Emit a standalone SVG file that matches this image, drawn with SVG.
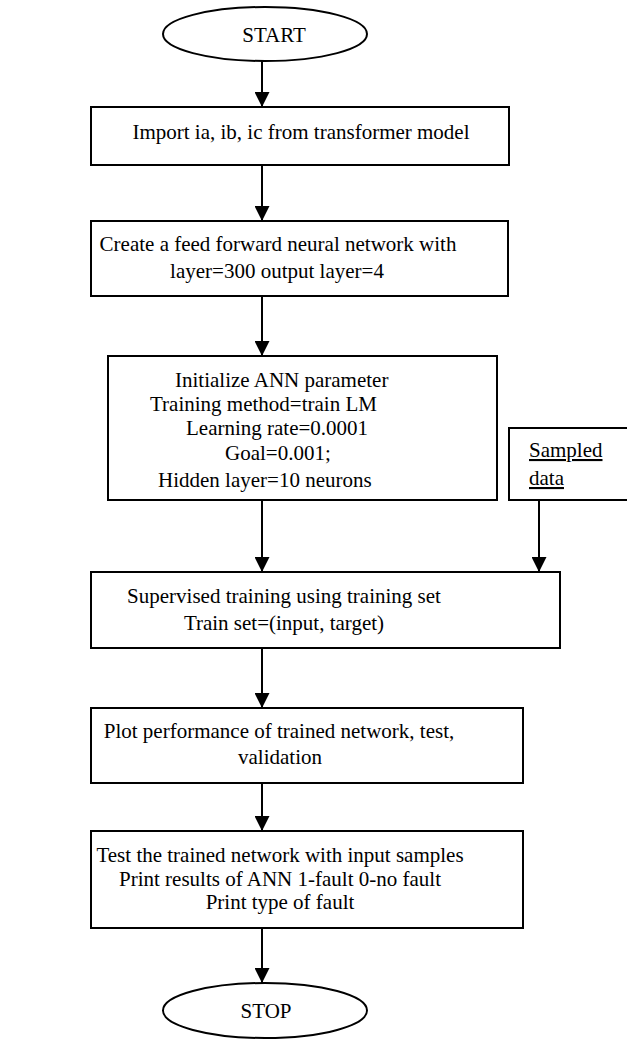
<svg xmlns="http://www.w3.org/2000/svg" width="627" height="1039" viewBox="0 0 627 1039">
<defs>
<style>
.n{fill:#fff;stroke:#000;stroke-width:2}
.t{font-family:"Liberation Serif","Times New Roman",serif;font-size:21px;fill:#000}
.m{text-anchor:middle}
.c{stroke:#000;stroke-width:2;fill:none;marker-end:url(#ah)}
.u{text-decoration:underline}
</style>
<marker id="ah" markerWidth="15" markerHeight="15" refX="15" refY="7.5" orient="auto" markerUnits="userSpaceOnUse">
<path d="M0,0 L15,7.5 L0,15 Z" fill="#000"/>
</marker>
</defs>
<rect width="627" height="1039" fill="#fff"/>
<g id="connectors">
<line class="c" x1="262" y1="61" x2="262" y2="107"/>
<line class="c" x1="262" y1="165" x2="262" y2="221"/>
<line class="c" x1="262" y1="296" x2="262" y2="356"/>
<line class="c" x1="262" y1="500" x2="262" y2="572"/>
<line class="c" x1="539" y1="500" x2="539" y2="572"/>
<line class="c" x1="262" y1="648" x2="262" y2="708"/>
<line class="c" x1="262" y1="783" x2="262" y2="831"/>
<line class="c" x1="262" y1="928" x2="262" y2="983"/>
</g>
<g id="start">
<ellipse class="n" cx="265" cy="34" rx="102" ry="27"/>
<text class="t m" x="274" y="42">START</text>
</g>
<g id="import">
<rect class="n" x="91" y="107" width="418" height="58"/>
<text class="t m" x="301" y="139">Import ia, ib, ic from transformer model</text>
</g>
<g id="create">
<rect class="n" x="91" y="221" width="417" height="75"/>
<text class="t m" x="278" y="251">Create a feed forward neural network with</text>
<text class="t m" x="277" y="278">layer=300 output layer=4</text>
</g>
<g id="init">
<rect class="n" x="108" y="356" width="389" height="144"/>
<text class="t" x="175" y="387">Initialize ANN parameter</text>
<text class="t" x="150" y="411">Training method=train LM</text>
<text class="t" x="186" y="435">Learning rate=0.0001</text>
<text class="t" x="225" y="460">Goal=0.001;</text>
<text class="t" x="158" y="487">Hidden layer=10 neurons</text>
</g>
<g id="sampled">
<rect class="n" x="509" y="428" width="130" height="72"/>
<text class="t u" x="529" y="457">Sampled</text>
<text class="t u" x="529" y="485">data</text>
</g>
<g id="supervised">
<rect class="n" x="91" y="572" width="469" height="76"/>
<text class="t m" x="284" y="603">Supervised training using training set</text>
<text class="t m" x="284" y="630">Train set=(input, target)</text>
</g>
<g id="plot">
<rect class="n" x="91" y="708" width="432" height="75"/>
<text class="t m" x="279" y="738">Plot performance of trained network, test,</text>
<text class="t m" x="280" y="764">validation</text>
</g>
<g id="test">
<rect class="n" x="91" y="831" width="432" height="97"/>
<text class="t m" x="280" y="862">Test the trained network with input samples</text>
<text class="t m" x="280" y="886">Print results of ANN 1-fault 0-no fault</text>
<text class="t m" x="280" y="909">Print type of fault</text>
</g>
<g id="stop">
<ellipse class="n" cx="265" cy="1010.5" rx="102" ry="27.5"/>
<text class="t m" x="266" y="1018">STOP</text>
</g>
</svg>
